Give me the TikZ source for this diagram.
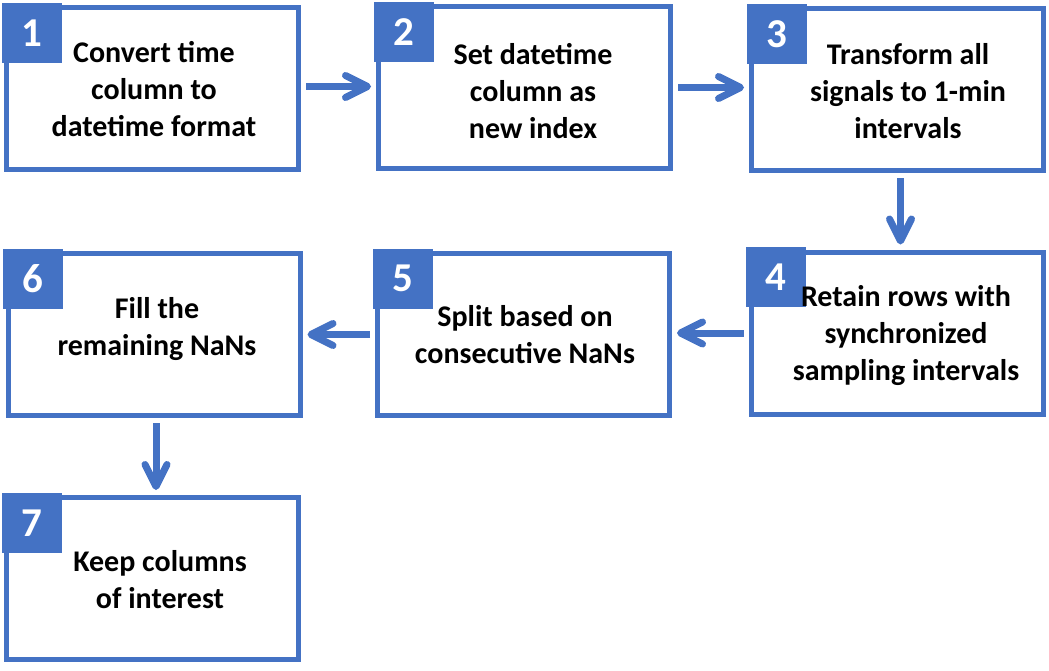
\documentclass[tikz,border=0pt]{standalone}
\usepackage{fontspec}
\setmainfont{Carlito}
\usetikzlibrary{arrows.meta}
\definecolor{obl}{HTML}{4472C4}
\tikzset{
 box/.style={draw=obl, line width=5pt, minimum width=292pt, minimum height=162pt, inner sep=0pt},
 num/.style={fill=obl, minimum size=60pt, inner sep=0pt, text=white, font=\fontsize{41}{41}\selectfont\bfseries, anchor=north west},
 txt/.style={align=center, font=\fontsize{30}{37}\selectfont\bfseries, inner sep=0pt},
 flow/.style={draw=obl, line width=7pt, -{Straight Barb[length=22pt,width=22pt,round]}, shorten <=5pt, shorten >=5pt}
}
\begin{document}
\begin{tikzpicture}[x=1pt,y=-1pt]
\useasboundingbox (0,0) rectangle (1049,670);
% boxes
\node[box] (b1) at (152.5,88.5) {};
\node[box] (b2) at (524.5,87.5) {};
\node[box] (b3) at (897.5,89.5) {};
\node[box] (b4) at (897,333) {};
\node[box] (b5) at (523.5,334.5) {};
\node[box] (b6) at (154,334.5) {};
\node[box] (b7) at (152.5,578.5) {};
% number squares
\foreach \i in {1,...,7}{
  \node[num] (n\i) at ([shift={(-2.5pt,2.5pt)}]b\i.north west) {\i};
}
% texts
\node[txt] (t1) at (154,89) {Convert time\\column to\\datetime format};
\node[txt] (t2) at (533,91) {Set datetime\\column as\\new index};
\node[txt] (t3) at (908,91) {Transform all\\signals to 1-min\\intervals};
\node[txt] (t4) at (906,336) {Retain rows with\\synchronized\\sampling intervals};
\node[txt] (t5) at (525,335) {Split based on\\consecutive NaNs};
\node[txt] (t6) at (157,329) {Fill the\\remaining NaNs};
\node[txt] (t7) at (160,580) {Keep columns\\of interest};
% connectors
\draw[flow] ([yshift=2pt]b1.east) -- ([yshift=2pt]b1.east -| b2.west);
\draw[flow] (b2.east) -- (b2.east -| b3.west);
\draw[flow] ([xshift=3pt]b3.south) -- ([xshift=3pt]b3.south |- b4.north);
\draw[flow] (b4.west) -- (b4.west -| b5.east);
\draw[flow] (b5.west) -- (b5.west -| b6.east);
\draw[flow] ([xshift=2pt]b6.south) -- ([xshift=2pt]b6.south |- b7.north);
\end{tikzpicture}
\end{document}
